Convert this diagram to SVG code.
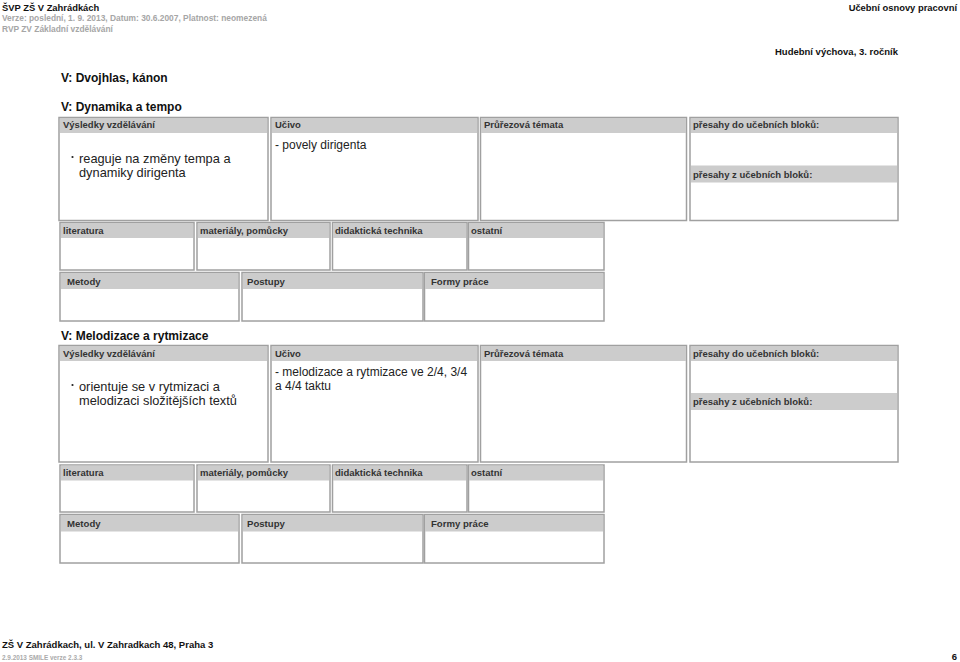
<svg xmlns="http://www.w3.org/2000/svg" width="960" height="662" viewBox="0 0 960 662">
<style>
text{font-family:"Liberation Sans",Arial,sans-serif}
.box{fill:#fff;stroke:#a0a0a0;stroke-width:1.5}
.hd{fill:#cccccc}
.ht{font-size:9.5px;font-weight:bold;fill:#333}
.ht2{font-size:9.6px;font-weight:bold;fill:#333}
.body{font-size:12px;fill:#222}
.bul{font-size:12.8px;fill:#222}
.sec{font-size:12px;font-weight:bold;fill:#111}
.gray{font-size:8.4px;font-weight:bold;fill:#a6a6a6}
</style>
<rect width="960" height="662" fill="#fff"/>
<g id="page-header">
<text x="2" y="10.5" style="font-size:9.4px;font-weight:bold" fill="#111">ŠVP ZŠ V Zahrádkách</text>
<text x="2" y="21" class="gray">Verze: poslední, 1. 9. 2013, Datum: 30.6.2007, Platnost: neomezená</text>
<text x="2" y="31.5" class="gray">RVP ZV Základní vzdělávání</text>
<text x="957" y="10.5" text-anchor="end" style="font-size:9.4px;font-weight:bold" fill="#111">Učební osnovy pracovní</text>
<text x="898" y="55" text-anchor="end" style="font-size:9.5px;font-weight:bold" fill="#111">Hudební výchova, 3. ročník</text>
<text x="61" y="82" class="sec">V: Dvojhlas, kánon</text>
</g>

<g id="section-1">
<text x="61" y="111" class="sec">V: Dynamika a tempo</text>
<g id="s1-vysledky">
<rect class="box" x="59" y="117.5" width="209" height="103"/>
<rect class="hd" x="60" y="118" width="207" height="15"/>
<text x="63" y="128" class="ht">Výsledky vzdělávání</text>
<circle cx="72.5" cy="157" r="1.1" fill="#222"/>
<text x="79" y="163" class="bul">reaguje na změny tempa a</text>
<text x="79" y="177" class="bul">dynamiky dirigenta</text>
</g>
<g id="s1-ucivo">
<rect class="box" x="271" y="117.5" width="207" height="103"/>
<rect class="hd" x="272" y="118" width="205" height="15"/>
<text x="275" y="128" class="ht">Učivo</text>
<text x="275" y="149" class="body">- povely dirigenta</text>
</g>
<g id="s1-prurezova">
<rect class="box" x="480.5" y="117.5" width="206" height="103"/>
<rect class="hd" x="481" y="118" width="205" height="15"/>
<text x="484" y="128" class="ht">Průřezová témata</text>
</g>
<g id="s1-presahy">
<rect class="box" x="690" y="117.5" width="208" height="103"/>
<rect class="hd" x="691" y="118" width="206" height="15"/>
<text x="693" y="128" class="ht">přesahy do učebních bloků:</text>
<rect class="hd" x="691" y="165.5" width="206" height="17"/>
<text x="693" y="177.5" class="ht">přesahy z učebních bloků:</text>
</g>
<g id="s1-literatura">
<rect class="box" x="60" y="222.5" width="134" height="47.5"/>
<rect class="hd" x="61" y="223" width="132" height="15"/>
<text x="63" y="233.5" class="ht">literatura</text>
</g>
<g id="s1-materialy">
<rect class="box" x="197" y="222.5" width="133" height="47.5"/>
<rect class="hd" x="198" y="223" width="131" height="15"/>
<text x="200" y="233.5" class="ht">materiály, pomůcky</text>
</g>
<g id="s1-didakticka">
<rect class="box" x="332.5" y="222.5" width="134.5" height="47.5"/>
<rect class="hd" x="333" y="223" width="133" height="15"/>
<text x="335" y="233.5" class="ht">didaktická technika</text>
</g>
<g id="s1-ostatni">
<rect class="box" x="468.5" y="222.5" width="135.5" height="47.5"/>
<rect class="hd" x="469" y="223" width="134" height="15"/>
<text x="471" y="233.5" class="ht">ostatní</text>
</g>
<g id="s1-metody">
<rect class="box" x="60" y="272.5" width="179" height="48.5"/>
<rect class="hd" x="61" y="273" width="177" height="16"/>
<text x="67" y="284.5" class="ht2">Metody</text>
</g>
<g id="s1-postupy">
<rect class="box" x="242" y="272.5" width="181" height="48.5"/>
<rect class="hd" x="243" y="273" width="179" height="16"/>
<text x="247" y="284.5" class="ht2">Postupy</text>
</g>
<g id="s1-formy">
<rect class="box" x="424.5" y="272.5" width="179.5" height="48.5"/>
<rect class="hd" x="425" y="273" width="178" height="16"/>
<text x="431" y="284.5" class="ht2">Formy práce</text>
</g>
</g>

<g id="section-2">
<text x="61" y="340" class="sec">V: Melodizace a rytmizace</text>
<g id="s2-vysledky">
<rect class="box" x="59" y="345.5" width="209" height="116.5"/>
<rect class="hd" x="60" y="346" width="207" height="15"/>
<text x="63" y="356.5" class="ht">Výsledky vzdělávání</text>
<circle cx="72.5" cy="385" r="1.1" fill="#222"/>
<text x="79" y="391" class="bul">orientuje se v rytmizaci a</text>
<text x="79" y="405" class="bul">melodizaci složitějších textů</text>
</g>
<g id="s2-ucivo">
<rect class="box" x="271" y="345.5" width="207" height="116.5"/>
<rect class="hd" x="272" y="346" width="205" height="15"/>
<text x="275" y="356.5" class="ht">Učivo</text>
<text x="275" y="376" class="body">- melodizace a rytmizace ve 2/4, 3/4</text>
<text x="275" y="390" class="body">a 4/4 taktu</text>
</g>
<g id="s2-prurezova">
<rect class="box" x="480.5" y="345.5" width="206" height="116.5"/>
<rect class="hd" x="481" y="346" width="205" height="15"/>
<text x="484" y="356.5" class="ht">Průřezová témata</text>
</g>
<g id="s2-presahy">
<rect class="box" x="690" y="345.5" width="208" height="116.5"/>
<rect class="hd" x="691" y="346" width="206" height="15"/>
<text x="693" y="356.5" class="ht">přesahy do učebních bloků:</text>
<rect class="hd" x="691" y="393" width="206" height="17"/>
<text x="693" y="405" class="ht">přesahy z učebních bloků:</text>
</g>
<g id="s2-literatura">
<rect class="box" x="60" y="465" width="134" height="47"/>
<rect class="hd" x="61" y="465.5" width="132" height="15"/>
<text x="63" y="476" class="ht">literatura</text>
</g>
<g id="s2-materialy">
<rect class="box" x="197" y="465" width="133" height="47"/>
<rect class="hd" x="198" y="465.5" width="131" height="15"/>
<text x="200" y="476" class="ht">materiály, pomůcky</text>
</g>
<g id="s2-didakticka">
<rect class="box" x="332.5" y="465" width="134.5" height="47"/>
<rect class="hd" x="333" y="465.5" width="133" height="15"/>
<text x="335" y="476" class="ht">didaktická technika</text>
</g>
<g id="s2-ostatni">
<rect class="box" x="468.5" y="465" width="135.5" height="47"/>
<rect class="hd" x="469" y="465.5" width="134" height="15"/>
<text x="471" y="476" class="ht">ostatní</text>
</g>
<g id="s2-metody">
<rect class="box" x="60" y="514.5" width="179" height="48.5"/>
<rect class="hd" x="61" y="515" width="177" height="16.5"/>
<text x="67" y="527" class="ht2">Metody</text>
</g>
<g id="s2-postupy">
<rect class="box" x="242" y="514.5" width="181" height="48.5"/>
<rect class="hd" x="243" y="515" width="179" height="16.5"/>
<text x="247" y="527" class="ht2">Postupy</text>
</g>
<g id="s2-formy">
<rect class="box" x="424.5" y="514.5" width="179.5" height="48.5"/>
<rect class="hd" x="425" y="515" width="178" height="16.5"/>
<text x="431" y="527" class="ht2">Formy práce</text>
</g>
</g>

<g id="page-footer">
<text x="2" y="648" style="font-size:9.5px;font-weight:bold" fill="#111">ZŠ V Zahrádkach, ul. V Zahradkach 48, Praha 3</text>
<text x="2" y="660" style="font-size:6.4px;font-weight:bold" fill="#aaa">2.9.2013 SMILE verze 2.3.3</text>
<text x="957" y="660" text-anchor="end" style="font-size:9.5px;font-weight:bold" fill="#111">6</text>
</g>
<g id="connectors"/>
</svg>
